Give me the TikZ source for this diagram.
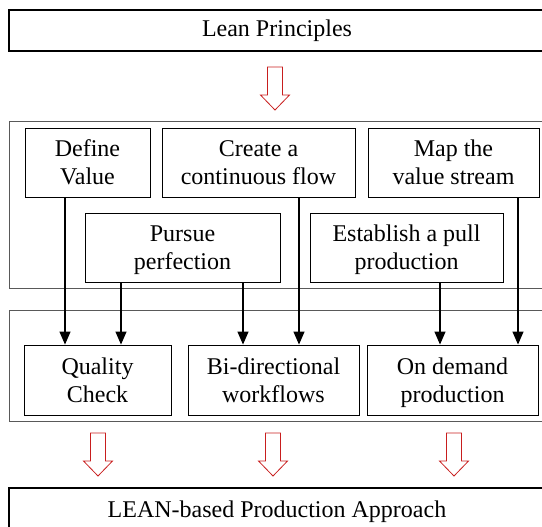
\documentclass[tikz,border=0pt]{standalone}
\usepackage{fontspec}
\setmainfont{Liberation Serif}
\usetikzlibrary{arrows.meta}
\definecolor{rojoflecha}{RGB}{200,30,30}

\begin{document}
\begin{tikzpicture}[x=1pt,y=-1pt,
    caja/.style={draw, line width=0.9pt, align=center, inner sep=0pt,
      font=\fontsize{24}{28}\selectfont},
    marco/.style={draw=black!65, line width=1pt},
    flujo/.style={line width=1.3pt, -{Triangle[length=13pt,width=11pt]}},
    flecha/.style={draw=rojoflecha, line width=0.8pt}]
  \useasboundingbox (0,0) rectangle (542,527);

  % Marcos de los grupos
  \draw[marco] (9,122) rectangle (545,288);
  \draw[marco] (9,310) rectangle (545,421);

  % Cajas principales
  \node[caja, line width=1.3pt, minimum width=536, minimum height=41] (lean) at (277,30.5) {Lean Principles};
  \node[caja, line width=1.3pt, minimum width=536, minimum height=48] (approach) at (277,512) {LEAN-based Production Approach};

  % Principios
  \node[caja, minimum width=125, minimum height=69] (define) at (87.5,162.5) {Define\\Value};
  \node[caja, minimum width=193, minimum height=69] (create) at (258.5,162.5) {Create a\\continuous flow};
  \node[caja, minimum width=171, minimum height=69] (map) at (453.5,162.5) {Map the\\value stream};
  \node[caja, minimum width=195, minimum height=69] (pursue) at (182.5,247.5) {Pursue\\\smash{perfection}};
  \node[caja, minimum width=193, minimum height=69] (pull) at (406.5,247.5) {Establish a pull\\\smash{production}};

  % Resultados
  \node[caja, minimum width=147, minimum height=70] (quality) at (97.5,380) {Quality\\Check};
  \node[caja, minimum width=171, minimum height=70] (bidir) at (273.5,380) {Bi-directional\\workflows};
  \node[caja, minimum width=171, minimum height=70] (demand) at (452.5,380) {On demand\\\smash{production}};

  % Flechas entre cajas
  \draw[flujo] ([xshift=-22.5]define.south) -- ([xshift=-22.5]define.south |- quality.north);
  \draw[flujo] ([xshift=-61.5]pursue.south) -- ([xshift=-61.5]pursue.south |- quality.north);
  \draw[flujo] ([xshift=60.5]pursue.south) -- ([xshift=60.5]pursue.south |- bidir.north);
  \draw[flujo] ([xshift=40.5]create.south) -- ([xshift=40.5]create.south |- bidir.north);
  \draw[flujo] ([xshift=33.5]pull.south) -- ([xshift=33.5]pull.south |- demand.north);
  \draw[flujo] ([xshift=64.5]map.south) -- ([xshift=64.5]map.south |- demand.north);

  % Flechas rojas huecas
  \foreach \x/\y in {275/67, 98/433, 273/433, 454/433} {
      \draw[flecha] (\x-7.5,\y) -- (\x+7.5,\y) -- (\x+7.5,\y+28) -- (\x+14.5,\y+28)
        -- (\x,\y+43) -- (\x-14.5,\y+28) -- (\x-7.5,\y+28) -- cycle;
  }
\end{tikzpicture}
\end{document}
